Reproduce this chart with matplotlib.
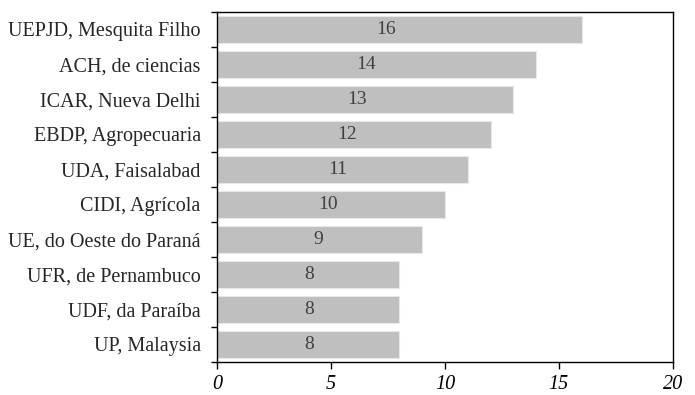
import matplotlib
matplotlib.use("Agg")
import matplotlib.pyplot as plt
import numpy as np

categories = ["UEPJD, Mesquita Filho", "ACH, de ciencias", "ICAR, Nueva Delhi",
              "EBDP, Agropecuaria", "UDA, Faisalabad", "CIDI, Agrícola",
              "UE, do Oeste do Paraná", "UFR, de Pernambuco", "UDF, da Paraíba",
              "UP, Malaysia"]
values = [16, 14, 13, 12, 11, 10, 9, 8, 8, 8]
xticks = [0, 5, 10, 15, 20]

plt.rcParams['font.family'] = ['Liberation Serif', 'DejaVu Serif']

fig = plt.figure(figsize=(6.95, 3.95), dpi=100)
ax = fig.add_axes([0.3127, 0.0835, 0.6553, 0.887])

y = np.arange(len(categories))[::-1]
ax.barh(y, values, height=0.77, color='#bfbfbf', edgecolor='#e8e8e8', linewidth=0.8)
for yi, v in zip(y, values):
    ax.text(0.67 + 0.42 * v, yi, str(v), ha='center', va='center',
            fontsize=14, color='#404040')

ax.set_xlim(0, 20)
ax.set_ylim(-0.5, len(categories) - 0.5)
ax.set_xticks(xticks)
ax.set_xticklabels([str(t) for t in xticks], fontsize=14.5, style='italic')
ax.set_yticks(y)
ax.set_yticklabels(categories, fontsize=14.5, color='#262626')
ax.set_yticks(np.arange(-0.5, len(categories), 1.0), minor=True)
ax.tick_params(axis='y', which='major', length=0, pad=12)
ax.tick_params(axis='y', which='minor', length=4, direction='out', width=1)
ax.tick_params(axis='x', which='major', length=5, direction='out', width=1, pad=4)
for s in ax.spines.values():
    s.set_linewidth(1.0)
    s.set_color('black')

fig.savefig("out.png", dpi=100)
